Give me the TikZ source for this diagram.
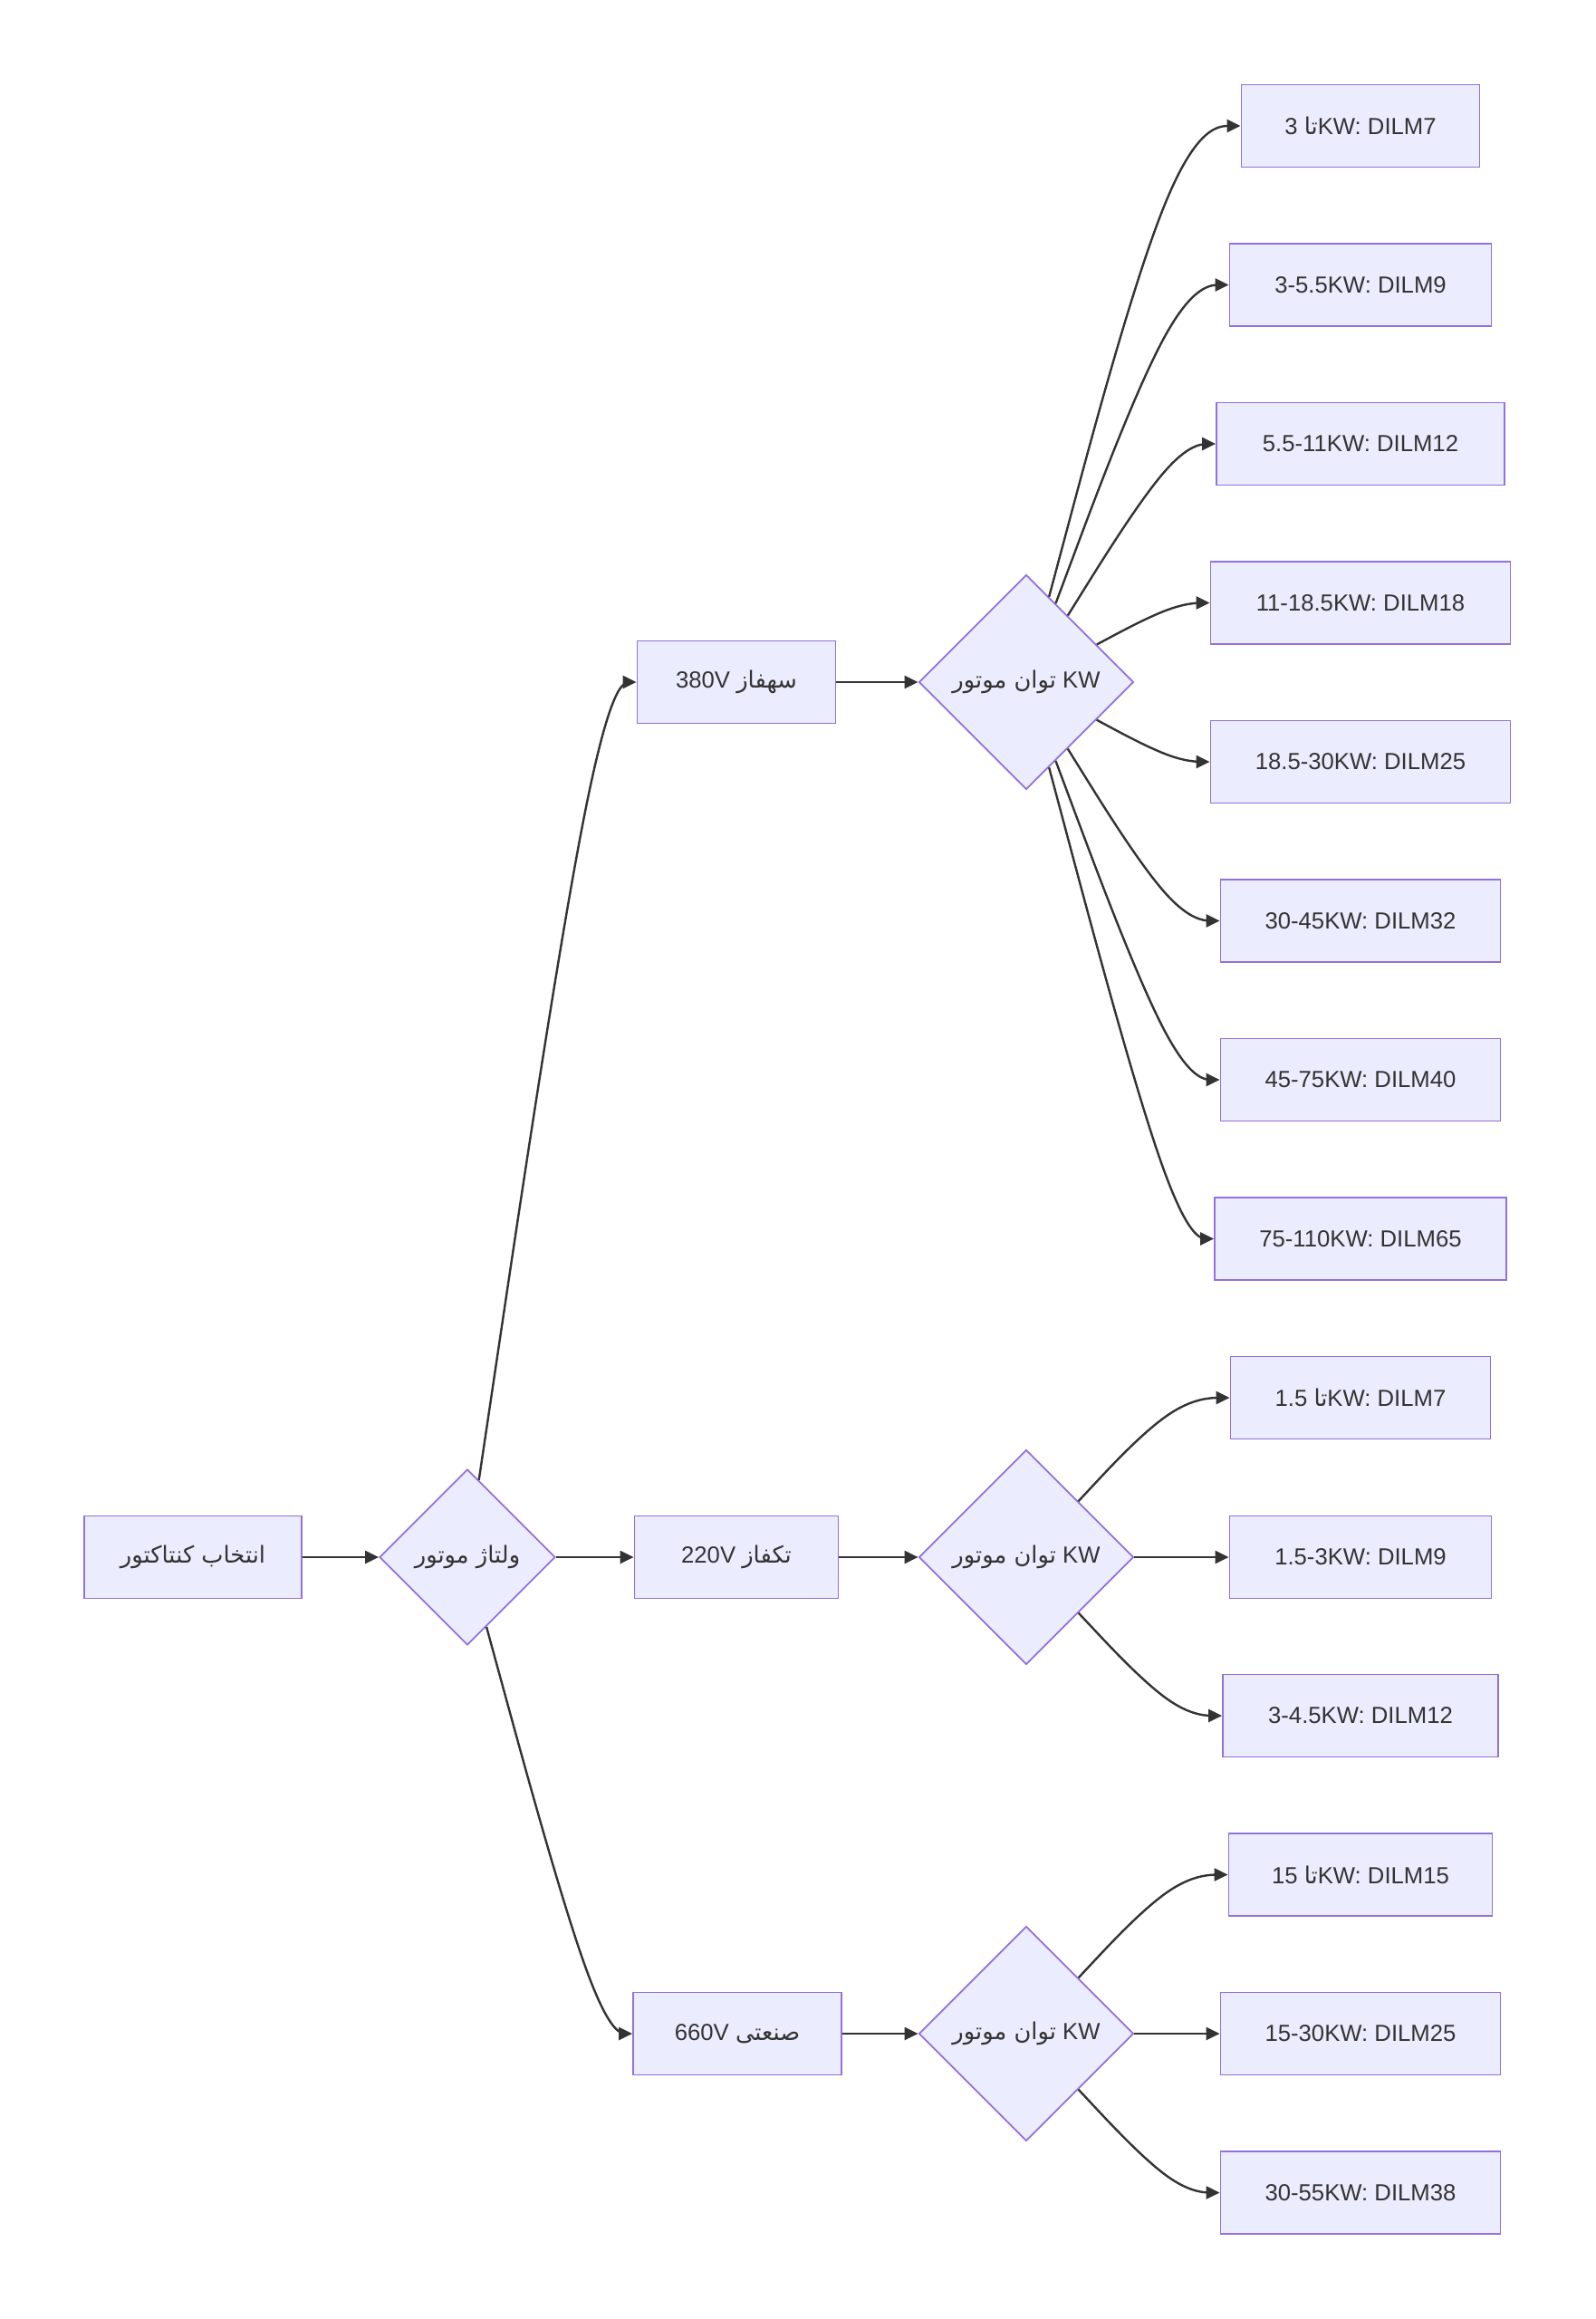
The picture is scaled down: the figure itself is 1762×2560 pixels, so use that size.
\documentclass[tikz,border=0pt]{standalone}
\usepackage{fontspec}
\setmainfont{Liberation Sans}
\newfontfamily\arfont[Script=Arabic]{DejaVu Sans}
\TeXXeTstate=1
\usetikzlibrary{shapes.geometric,arrows.meta,calc}
\definecolor{nfill}{HTML}{ECECFF}
\definecolor{nline}{HTML}{9370DB}
\definecolor{eline}{HTML}{333333}
\newcommand\tawrd{{\arfont\beginR تا\endR}}
\newcommand\bas[3]{\draw[edge] (#1) -- ($0.83333*(#1)+0.16667*(#2)$) .. controls ($0.66667*(#1)+0.33333*(#2)$) and ($0.33333*(#1)+0.66667*(#2)$) .. ($0.16667*(#1)+0.66667*(#2)+0.16667*(#3)$) .. controls ($0.66667*(#2)+0.33333*(#3)$) and ($0.33333*(#2)+0.66667*(#3)$) .. ($0.16667*(#2)+0.83333*(#3)$) -- (#3);}
\newcommand\fan[3]{\coordinate (m#2) at (#2.west -| #3); \path (#1) -- (m#2) coordinate[pos=0] (s#2); \bas{s#2}{m#2}{#2.west}}
\begin{document}
\begin{tikzpicture}[x=1pt,y=-1pt,
  box/.style={draw=nline,fill=nfill,text=eline,line width=1.8pt,minimum height=91pt,inner sep=0pt,font=\fontsize{25.7}{30}\selectfont},
  dia/.style={diamond,aspect=1,draw=nline,fill=nfill,text=eline,line width=1.8pt,inner sep=0pt,font=\fontsize{25.7}{30}\selectfont},
  edge/.style={draw=eline,line width=2.4pt,-{Triangle[length=15pt,width=14pt]}}]
\useasboundingbox (0,0) rectangle (1762,2560);
% nodes
\node[box,minimum width=240pt] (start) at (213,1719) {\arfont\beginR انتخاب کنتاکتور\endR};
\node[dia,minimum width=194pt,minimum height=194pt] (d1) at (516,1719) {\arfont\beginR ولتاژ موتور\endR};
\node[box,minimum width=219pt] (v380) at (813,753) {380V {\arfont\beginR سهفاز\endR}};
\node[box,minimum width=225pt] (v220) at (813,1719) {220V {\arfont\beginR تکفاز\endR}};
\node[box,minimum width=230pt] (v660) at (814,2245) {660V {\arfont\beginR صنعتی\endR}};
\node[dia,minimum width=237pt,minimum height=237pt] (k1) at (1133,753) {{\arfont\beginR توان موتور\endR} KW};
\node[dia,minimum width=237pt,minimum height=237pt] (k2) at (1133,1719) {{\arfont\beginR توان موتور\endR} KW};
\node[dia,minimum width=237pt,minimum height=237pt] (k3) at (1133,2245) {{\arfont\beginR توان موتور\endR} KW};
\node[box,minimum width=263pt] (r1) at (1502,139) {3 \tawrd KW: DILM7};
\node[box,minimum width=289pt] (r2) at (1502,314.5) {3-5.5KW: DILM9};
\node[box,minimum width=318pt] (r3) at (1502,490) {5.5-11KW: DILM12};
\node[box,minimum width=331pt] (r4) at (1502,665.5) {11-18.5KW: DILM18};
\node[box,minimum width=331pt] (r5) at (1502,841) {18.5-30KW: DILM25};
\node[box,minimum width=309pt] (r6) at (1502,1016.5) {30-45KW: DILM32};
\node[box,minimum width=309pt] (r7) at (1502,1192) {45-75KW: DILM40};
\node[box,minimum width=322pt] (r8) at (1502,1367.5) {75-110KW: DILM65};
\node[box,minimum width=287pt] (r9) at (1502,1543) {1.5 \tawrd KW: DILM7};
\node[box,minimum width=289pt] (r10) at (1502,1719) {1.5-3KW: DILM9};
\node[box,minimum width=304pt] (r11) at (1502,1894) {3-4.5KW: DILM12};
\node[box,minimum width=291pt] (r12) at (1502,2069.5) {15 \tawrd KW: DILM15};
\node[box,minimum width=309pt] (r13) at (1502,2245) {15-30KW: DILM25};
\node[box,minimum width=309pt] (r14) at (1502,2420.5) {30-55KW: DILM38};
% edges
\coordinate (mv) at (660,0);
\coordinate (mx) at (1297,0);
\draw[edge] (start.east) -- (d1.west);
\fan{d1}{v380}{mv}
\draw[edge] (d1.east) -- (v220.west);
\fan{d1}{v660}{mv}
\draw[edge] (v380.east) -- (k1.west);
\draw[edge] (v220.east) -- (k2.west);
\draw[edge] (v660.east) -- (k3.west);
\fan{k1}{r1}{mx}
\fan{k1}{r2}{mx}
\fan{k1}{r3}{mx}
\fan{k1}{r4}{mx}
\fan{k1}{r5}{mx}
\fan{k1}{r6}{mx}
\fan{k1}{r7}{mx}
\fan{k1}{r8}{mx}
\fan{k2}{r9}{mx}
\draw[edge] (k2.east) -- (r10.west);
\fan{k2}{r11}{mx}
\fan{k3}{r12}{mx}
\draw[edge] (k3.east) -- (r13.west);
\fan{k3}{r14}{mx}
\end{tikzpicture}
\end{document}
